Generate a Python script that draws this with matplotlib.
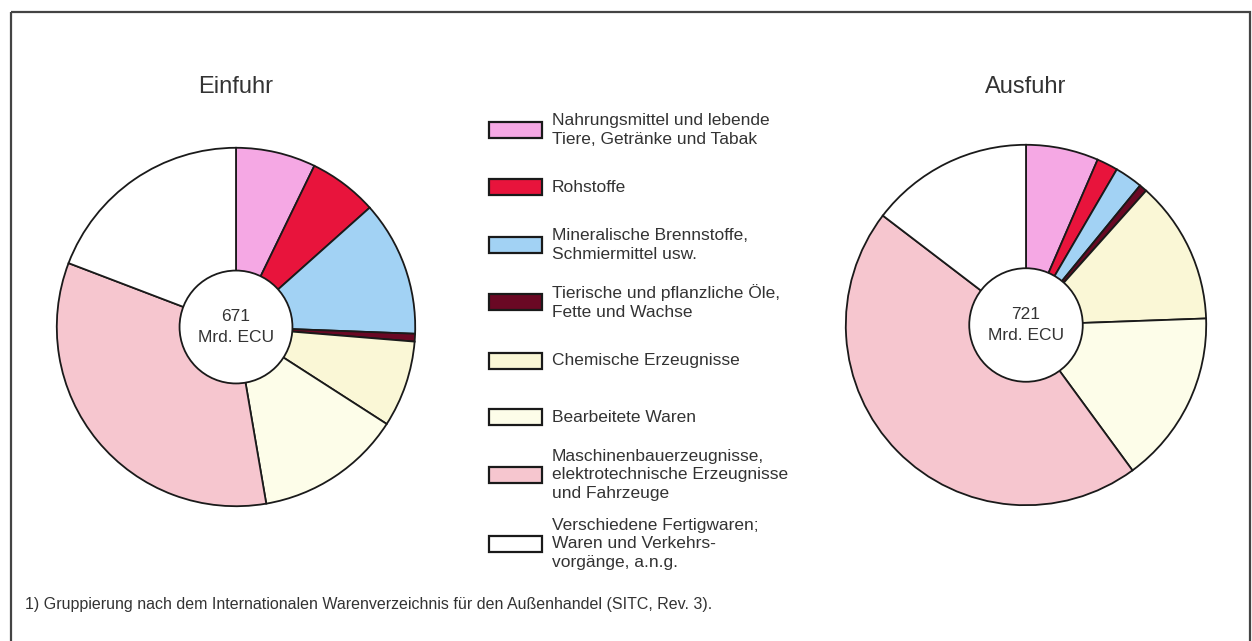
import numpy as np
import matplotlib.pyplot as plt
from matplotlib.patches import Rectangle, Circle

plt.rcParams['font.family'] = ['Liberation Sans', 'DejaVu Sans']

# Warengruppen (SITC) und Anteile in % (aus dem Bild geschaetzt)
categories = [
    "Nahrungsmittel und lebende\nTiere, Getränke und Tabak",
    "Rohstoffe",
    "Mineralische Brennstoffe,\nSchmiermittel usw.",
    "Tierische und pflanzliche Öle,\nFette und Wachse",
    "Chemische Erzeugnisse",
    "Bearbeitete Waren",
    "Maschinenbauerzeugnisse,\nelektrotechnische Erzeugnisse\nund Fahrzeuge",
    "Verschiedene Fertigwaren;\nWaren und Verkehrs-\nvorgänge, a.n.g.",
]
colors = ['#f5a8e4', '#e8143c', '#a2d2f4', '#6a0824',
          '#faf7d6', '#fdfde9', '#f6c6cf', '#ffffff']
einfuhr = [7.2, 6.2, 12.2, 0.7, 7.8, 13.2, 33.5, 19.2]
ausfuhr = [6.5, 1.9, 2.5, 0.7, 12.8, 15.5, 45.4, 14.6]
totals = ["671", "721"]
titles = ["Einfuhr", "Ausfuhr"]
footnote = "1) Gruppierung nach dem Internationalen Warenverzeichnis für den Außenhandel (SITC, Rev. 3)."

W, H = 1252, 641
fig = plt.figure(figsize=(W / 100, H / 100), dpi=100)
fig.patch.set_facecolor('white')

# overlay in pixel coordinates for frame, titles, legend
over = fig.add_axes([0, 0, 1, 1])
over.set_xlim(0, W)
over.set_ylim(H, 0)
over.axis('off')

# frame (bottom edge lies outside the picture)
over.add_patch(Rectangle((11, 12), 1239, 660, fill=False, ec='#444444', lw=1.6, clip_on=False))


def donut(cx, cy, r, values, total, title):
    ax = fig.add_axes([(cx - r) / W, (H - cy - r) / H, 2 * r / W, 2 * r / H])
    ax.pie(values, colors=colors, startangle=90, counterclock=False, radius=1,
           wedgeprops=dict(width=0.69, edgecolor='#1a1a1a', linewidth=1.3))
    ax.add_patch(Circle((0, 0), 0.315, fc='white', ec='#1a1a1a', lw=1.3))
    ax.text(0, 0, total + "\nMrd. ECU", ha='center', va='center', fontsize=12.5,
            color='#333333', linespacing=1.45)
    ax.set_xlim(-1.01, 1.01)
    ax.set_ylim(-1.01, 1.01)
    ax.set_aspect('equal')
    ax.axis('off')
    over.text(cx, 87, title, ha='center', va='center', fontsize=17, color='#333333')


donut(236, 327, 181, einfuhr, totals[0], titles[0])
donut(1026, 325, 182, ausfuhr, totals[1], titles[1])

# legend
box_y = [130, 187, 245, 302, 361, 417, 475, 544]
for label, c, y in zip(categories, colors, box_y):
    over.add_patch(Rectangle((489, y - 8), 53, 16, fc=c, ec='#1a1a1a', lw=1.6))
    over.text(552, y + 0, label, ha='left', va='center', fontsize=12.5,
              color='#333333', linespacing=1.3)

over.text(25, 604, footnote, ha='left', va='center', fontsize=11.5,
          color='#333333')

fig.savefig('out.png', dpi=100, facecolor='white')
